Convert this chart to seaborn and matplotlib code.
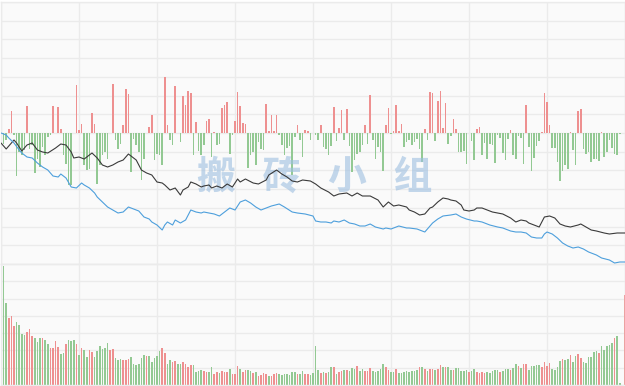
import matplotlib
matplotlib.use("Agg")
import matplotlib.pyplot as plt
import seaborn as sns
import numpy as np
import pandas as pd

# ---------------- data ----------------
minutes = list(range(241))

# top panel: red/green bars around the zero line (one per minute)
flow = [
    -3, -11, -7, 4, 22, -2, -43, -19, -22, -17, 27, -16, -12, -40, -26, -34, -14, -22, -4, -2,
    27, 0, 26, 4, -22, -31, -52, -52, 0, 48, 3, 9, -32, -37, -36, 20, 9, -51, -32, -22,
    -19, -26, 0, 49, -7, -16, -11, 8, 44, 39, -39, -6, -12, -19, -47, -26, 0, 6, 18, -27,
    -21, -22, -32, 56, 8, -7, -12, 47, 0, -9, 37, 28, 42, 40, -22, 11, -18, -22, -12, 12,
    14, -24, 1, -12, -11, 25, 28, 31, -21, -2, 12, 41, 27, 10, 9, -35, -22, -19, -32, -9,
    -16, -17, 29, 2, 18, 2, 18, -2, -12, -22, -15, -13, -42, -4, 8, -7, -24, 3, 2, -7,
    0, -2, -7, 8, -14, -16, -22, -13, 26, -8, 5, 23, -7, 24, -13, -39, -27, -21, -19, -12,
    8, -11, 38, -7, -26, -14, -19, -38, 8, 25, -1, 2, 28, 2, 9, -14, -9, -7, -12, -9,
    -6, -16, -29, 4, -7, 41, 40, -8, 32, 42, 5, 30, -11, -3, 14, 4, -19, -19, -18, -31,
    0, -8, -27, 4, 6, -22, -10, -26, -11, -12, -30, -2, -5, -20, -27, -6, 3, -22, -26, -3,
    -5, -31, 28, -14, -38, -25, -13, -8, 1, 40, 31, 8, -15, -15, -29, -48, -38, -32, -36, 1,
    -17, -32, 22, 24, -16, -21, -19, -29, -26, -26, -28, 1, -24, -19, -7, -15, -21, -22, -1, 0,
    0,
]

# price line (black) and average line (blue): minute index -> level
price_idx = [0, 2, 3, 5, 6, 8, 10, 12, 14, 16, 18, 21, 23, 25, 27, 28, 30, 32, 35, 37,
             39, 41, 43, 45, 47, 49, 51, 52, 54, 56, 58, 60, 62, 63, 65, 67, 69, 70, 72, 73,
             75, 77, 78, 80, 81, 83, 85, 87, 89, 91, 92, 94, 97, 99, 102, 103, 106, 108, 110, 112,
             114, 116, 119, 121, 123, 126, 128, 130, 133, 135, 137, 139, 142, 145, 147, 149, 151, 153, 156, 157,
             159, 161, 163, 165, 166, 168, 170, 172, 173, 175, 177, 178, 180, 182, 183, 185, 187, 189, 191, 193,
             196, 198, 200, 202, 203, 205, 207, 208, 209, 211, 213, 215, 217, 219, 222, 223, 225, 227, 229, 232,
             234, 237, 239, 240]
price_val = [121, 115, 118, 124, 121, 113, 119, 121, 114, 112, 111, 116, 120, 119, 112, 106, 107, 105, 111, 106,
             99, 97, 99, 102, 104, 110, 106, 104, 94, 91, 89, 82, 81, 79, 74, 76, 69, 74, 77, 82,
             80, 77, 78, 79, 76, 78, 76, 80, 77, 85, 82, 85, 81, 80, 84, 89, 94, 90, 87, 83,
             82, 84, 83, 80, 76, 72, 68, 70, 71, 68, 71, 68, 68, 64, 57, 62, 58, 59, 57, 54,
             52, 49, 50, 56, 57, 62, 66, 65, 64, 63, 59, 54, 53, 54, 56, 56, 54, 52, 51, 50,
             46, 42, 44, 43, 41, 39, 37, 42, 47, 48, 46, 40, 38, 37, 39, 40, 37, 34, 33, 31,
             30, 31, 31, 31]

avg_idx = [0, 2, 3, 5, 7, 8, 10, 12, 14, 16, 18, 20, 22, 23, 25, 27, 29, 31, 32, 34,
           36, 37, 39, 41, 43, 45, 47, 49, 51, 53, 55, 57, 58, 60, 62, 63, 64, 66, 67, 69,
           71, 73, 75, 77, 78, 80, 82, 84, 86, 88, 90, 92, 94, 96, 98, 100, 102, 104, 107, 109,
           112, 114, 117, 120, 121, 123, 125, 127, 128, 130, 132, 134, 136, 138, 140, 142, 144, 147, 148, 150,
           153, 156, 157, 160, 162, 163, 164, 166, 168, 170, 173, 175, 177, 179, 182, 183, 185, 188, 191, 193,
           196, 198, 200, 202, 204, 206, 208, 209, 210, 212, 214, 216, 218, 220, 222, 224, 226, 229, 231, 234,
           236, 238, 239, 240]
avg_val = [131, 129, 126, 121, 114, 111, 107, 106, 101, 97, 94, 88, 87, 90, 86, 77, 76, 81, 79, 76,
           71, 67, 62, 57, 54, 51, 52, 57, 55, 53, 47, 45, 42, 39, 34, 39, 42, 39, 44, 41,
           44, 54, 52, 51, 52, 51, 50, 48, 52, 56, 54, 62, 64, 61, 57, 54, 56, 58, 60, 57,
           52, 51, 50, 48, 43, 42, 42, 41, 43, 42, 44, 41, 40, 38, 38, 40, 37, 35, 36, 35,
           38, 36, 36, 35, 33, 32, 35, 41, 45, 48, 49, 50, 47, 45, 43, 43, 42, 39, 37, 36,
           33, 32, 32, 31, 27, 26, 26, 30, 32, 30, 26, 21, 18, 16, 17, 15, 12, 9, 6, 4,
           1, 2, 2, 2]

# bottom panel: volume per minute and its colour ("u" = red, "d" = green)
volume = [
    36, 119, 82, 67, 69, 59, 63, 60, 51, 50, 53, 56, 49, 47, 43, 47, 47, 45, 41, 37,
    37, 44, 38, 31, 32, 41, 45, 44, 45, 41, 30, 37, 35, 28, 35, 33, 28, 34, 39, 36,
    37, 42, 35, 36, 27, 25, 26, 25, 25, 26, 28, 21, 20, 21, 27, 30, 29, 29, 23, 27,
    29, 34, 37, 32, 21, 25, 23, 24, 21, 21, 23, 21, 18, 20, 20, 13, 14, 15, 14, 13,
    13, 18, 11, 13, 12, 14, 13, 13, 16, 11, 11, 19, 16, 13, 15, 15, 14, 12, 13, 9,
    10, 12, 11, 9, 9, 11, 12, 11, 10, 11, 11, 10, 13, 13, 11, 11, 14, 11, 11, 10,
    12, 39, 15, 12, 13, 12, 13, 18, 18, 11, 13, 14, 15, 15, 14, 17, 16, 19, 14, 16,
    14, 14, 17, 14, 13, 14, 16, 21, 18, 15, 13, 13, 16, 12, 12, 13, 14, 13, 14, 14,
    15, 18, 18, 16, 14, 16, 16, 15, 16, 20, 18, 18, 18, 15, 15, 17, 17, 14, 14, 15,
    13, 14, 16, 13, 12, 13, 12, 13, 12, 14, 15, 15, 13, 14, 16, 16, 15, 17, 21, 19,
    17, 21, 21, 15, 19, 19, 20, 20, 18, 23, 19, 22, 16, 15, 18, 24, 26, 25, 26, 30,
    23, 29, 31, 27, 23, 22, 28, 28, 33, 34, 32, 39, 35, 39, 40, 42, 47, 49, 2, 0,
    90,
]
vol_dir = [
    "d", "d", "d", "u", "u", "u", "d", "d", "d", "d", "u", "u", "u", "d", "d", "d", "u", "d", "d", "u",
    "u", "u", "u", "d", "d", "u", "d", "d", "d", "u", "d", "u", "d", "d", "u", "u", "d", "d", "d", "d",
    "d", "d", "u", "u", "d", "d", "d", "u", "u", "u", "d", "d", "d", "d", "d", "d", "u", "d", "d", "d",
    "d", "d", "u", "u", "d", "d", "u", "u", "d", "d", "u", "u", "u", "u", "d", "d", "d", "d", "u", "u",
    "d", "d", "u", "u", "d", "u", "u", "u", "d", "u", "u", "u", "d", "u", "u", "d", "d", "u", "d", "u",
    "u", "u", "u", "d", "u", "u", "u", "d", "d", "d", "d", "d", "d", "d", "u", "d", "d", "u", "u", "d",
    "d", "d", "d", "u", "d", "u", "d", "d", "u", "d", "u", "u", "d", "u", "d", "d", "d", "u", "d", "d",
    "u", "u", "u", "d", "d", "d", "d", "d", "u", "u", "d", "d", "u", "d", "d", "d", "d", "d", "d", "d",
    "d", "u", "d", "u", "d", "u", "u", "d", "u", "u", "d", "u", "d", "d", "u", "d", "d", "d", "d", "d",
    "u", "d", "d", "u", "u", "u", "u", "d", "d", "d", "d", "d", "u", "d", "d", "d", "u", "d", "d", "u",
    "d", "u", "u", "d", "d", "d", "d", "d", "u", "u", "u", "u", "d", "d", "d", "d", "u", "d", "d", "u",
    "d", "d", "u", "u", "d", "d", "d", "d", "d", "d", "u", "d", "d", "d", "d", "d", "u", "d", "d", "d",
    "u",
]

watermark = "搬   砖   小   组"

# ---------------- style ----------------
RED = "#ee9090"
GREEN = "#93c993"
PANEL = "#fafafa"
GRID = "#ebebeb"

sns.set_theme(style="white")
plt.rcParams["font.family"] = ["Noto Sans CJK SC", "DejaVu Sans"]

W, H = 625, 386
fig = plt.figure(figsize=(W / 100, H / 100), dpi=100)
fig.patch.set_facecolor("white")

ax_top = fig.add_axes([1 / W, 1 - 264 / H, 624 / W, 262 / H])
ax_vol = fig.add_axes([1 / W, 1 / H, 624 / W, 121 / H])

df_flow = pd.DataFrame({"m": minutes, "v": flow,
                        "c": ["u" if v > 0 else "d" for v in flow]})
sns.barplot(data=df_flow, x="m", y="v", hue="c", palette={"u": RED, "d": GREEN},
            native_scale=True, width=0.55, dodge=False, legend=False,
            errorbar=None, saturation=1, linewidth=0, ax=ax_top)

df_vol = pd.DataFrame({"m": minutes, "v": volume, "c": vol_dir})
sns.barplot(data=df_vol, x="m", y="v", hue="c", palette={"u": RED, "d": GREEN},
            native_scale=True, width=0.55, dodge=False, legend=False,
            errorbar=None, saturation=1, linewidth=0, ax=ax_vol)

ax_line = ax_top.twinx()
ax_line.text(0.503, 0.33, watermark, transform=ax_line.transAxes, ha="center",
             va="center", fontsize=28, fontweight="bold", color="#9dbfe0",
             alpha=0.6, zorder=1,
             family=["Noto Sans CJK SC", "DejaVu Sans"])
sns.lineplot(x=price_idx, y=price_val, color="#3a3a3a", linewidth=0.8, ax=ax_line,
             zorder=3)
sns.lineplot(x=avg_idx, y=avg_val, color="#4d9fdc", linewidth=0.8, ax=ax_line,
             zorder=3)

for ax, lo, hi, n in ((ax_top, -131, 131, 14), (ax_vol, 0, 121, 7)):
    ax.set_facecolor(PANEL)
    ax.set_xlim(0, 240)
    ax.set_ylim(lo, hi)
    ax.set_xticks(range(0, 241, 30))
    ax.set_yticks(np.linspace(lo, hi, n + 1))
    ax.grid(True, color=GRID, linewidth=1)
    ax.set_axisbelow(True)
    ax.tick_params(left=False, bottom=False, labelleft=False, labelbottom=False)
    ax.set_xlabel("")
    ax.set_ylabel("")
    for s in ax.spines.values():
        s.set_color(GRID)
        s.set_linewidth(1)

ax_line.set_ylim(0, 262)
ax_line.set_xlim(0, 240)
ax_line.axis("off")

fig.savefig("out.png", dpi=100)
